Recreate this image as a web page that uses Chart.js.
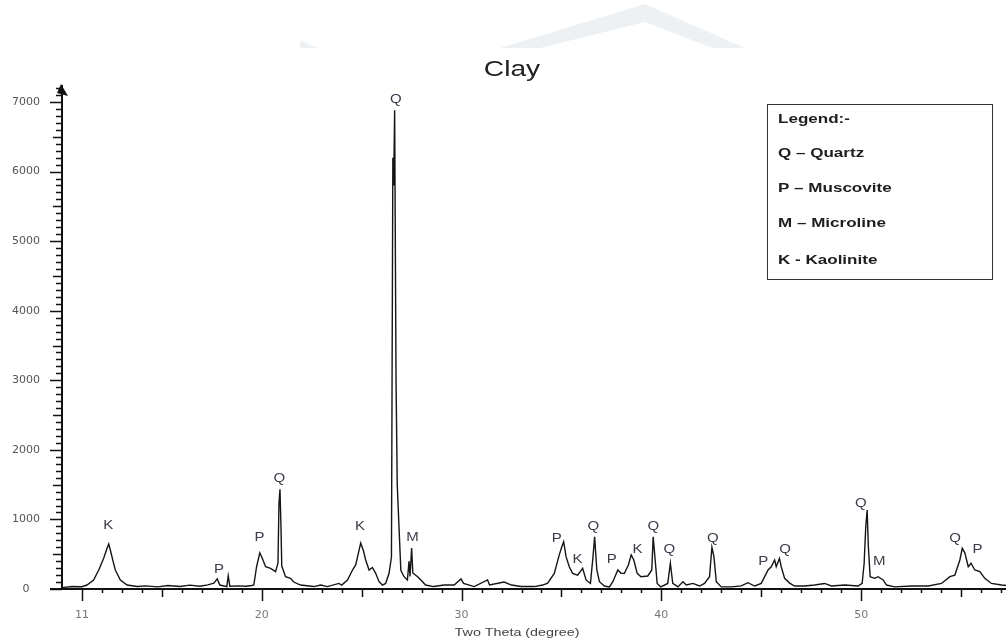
<!doctype html>
<html>
<head>
<title>Clay</title>
<script src="https://cdn.jsdelivr.net/npm/chart.js@4.4.1/dist/chart.umd.min.js"></script>
<style>
  html, body { margin: 0; padding: 0; background: #fff; }
</style>
</head>
<body>
<canvas id="xrd" width="1006" height="641"></canvas>
<script>
// diffractogram (2 theta in degrees, counts)
var theta = [10.0, 10.5, 10.99, 11.25, 11.58, 11.84, 12.09, 12.26, 12.34, 12.42, 12.56, 12.67, 12.92, 13.26, 13.76,
  14.2, 14.8, 15.3, 15.9, 16.4, 16.9, 17.3, 17.6, 17.77, 17.9, 18.25, 18.32, 18.4, 18.8, 19.2, 19.5,
  19.6, 19.74, 19.9, 20.02, 20.19, 20.44, 20.69, 20.81, 20.86, 20.91, 20.96, 21.0, 21.19, 21.44, 21.6, 21.94,
  22.6, 22.95, 23.28, 23.86, 24.0, 24.29, 24.54, 24.7, 24.87, 24.95, 25.09, 25.2, 25.37, 25.54, 25.7, 25.87,
  26.04, 26.2, 26.37, 26.49, 26.56, 26.6, 26.65, 26.72, 26.78, 26.87, 26.96, 27.12, 27.29, 27.37, 27.42, 27.5,
  27.56, 27.8, 27.96, 28.2, 28.6, 29.13, 29.63, 29.97, 30.1, 30.63, 31.3, 31.4, 32.13, 32.5, 32.97, 33.64,
  34.06, 34.31, 34.64, 34.89, 35.01, 35.11, 35.23, 35.39, 35.56, 35.81, 36.06, 36.23, 36.45, 36.57, 36.66,
  36.77, 36.9, 37.15, 37.4, 37.57, 37.82, 37.98, 38.15, 38.35, 38.49, 38.62, 38.79, 38.98, 39.32, 39.52,
  39.59, 39.69, 39.79, 39.97, 40.32, 40.45, 40.57, 40.83, 41.08, 41.25, 41.58, 41.91, 42.16, 42.41, 42.53,
  42.63, 42.75, 43.0, 43.5, 44.0, 44.33, 44.67, 45.0, 45.34, 45.5, 45.67, 45.75, 45.91, 46.0, 46.17, 46.42,
  46.67, 47.17, 47.67, 48.17, 48.51, 49.18, 49.85, 50.05, 50.15, 50.23, 50.3, 50.36, 50.45, 50.68, 50.85,
  51.1, 51.27, 51.68, 52.52, 53.36, 54.02, 54.44, 54.69, 54.94, 55.06, 55.19, 55.36, 55.5, 55.69, 55.94,
  56.19, 56.52, 57.03, 57.25];
var counts = [20, 35, 33, 57, 130, 273, 445, 590, 647, 560, 393, 273, 130, 57, 35,
  45, 30, 50, 35, 55, 40, 60, 85, 145, 57, 33, 190, 40, 45, 40, 50,
  57, 320, 520, 445, 320, 297, 250, 370, 1231, 1432, 900, 330, 177, 153, 100, 57,
  35, 57, 35, 80, 57, 130, 273, 345, 560, 660, 550, 417, 273, 310, 225, 105,
  57, 80, 225, 460, 6200, 5800, 6880, 3000, 1500, 875, 270, 177, 130, 400, 180, 590,
  230, 177, 130, 57, 35, 57, 57, 145, 80, 35, 130, 57, 100, 57, 35, 35,
  57, 85, 225, 490, 600, 680, 465, 320, 225, 200, 297, 130, 80, 440, 750,
  273, 105, 43, 30, 105, 273, 225, 225, 345, 490, 417, 225, 177, 187, 273,
  750, 417, 80, 30, 80, 370, 80, 30, 105, 57, 80, 43, 80, 177, 600,
  465, 105, 30, 30, 45, 90, 43, 80, 273, 320, 417, 320, 440, 320, 153, 85,
  43, 43, 57, 80, 43, 57, 43, 80, 370, 895, 1135, 610, 177, 153, 177,
  130, 57, 30, 43, 43, 80, 177, 200, 417, 585, 520, 320, 370, 273, 250,
  153, 80, 57, 50];

// phase letters over the peaks
var peakTheta = [12.31, 17.86, 19.88, 20.88, 24.92, 26.71, 27.54, 34.77, 35.8, 36.6, 37.52,
  38.8, 39.6, 40.4, 42.57, 45.1, 46.19, 49.98, 50.91, 54.7, 55.82];
var peakCounts = [905, 283, 737, 1590, 895, 7037, 737, 718, 417, 895, 427,
  570, 895, 560, 718, 392, 560, 1231, 392, 718, 570];
var peakLetters = ['K', 'P', 'P', 'Q', 'K', 'Q', 'M', 'P', 'K', 'Q', 'P',
  'K', 'Q', 'Q', 'Q', 'P', 'Q', 'Q', 'M', 'Q', 'P'];

var xTickLabels = [11, 20, 30, 40, 50];
var yTickLabels = [0, 1000, 2000, 3000, 4000, 5000, 6000, 7000];
var legendLines = ['Legend:-', 'Q \u2013 Quartz', 'P \u2013 Muscovite', 'M \u2013 Microline', 'K - Kaolinite'];

var FONT = '"Liberation Sans", Arial, sans-serif';

// the scan looks stretched sideways, so text is widened the same way
function wideText(ctx, str, x, y, sx, align) {
    ctx.save();
    ctx.translate(x, y);
    ctx.scale(sx, 1);
    ctx.textAlign = align;
    ctx.fillText(str, 0, 0);
    ctx.restore();
}

var decor = {
    id: 'decor',
    beforeDraw: function(chart) {
        var ctx = chart.ctx;
        ctx.save();
        ctx.fillStyle = '#fff';
        ctx.fillRect(0, 0, chart.width, chart.height);
        // faint watermark left over at the top of the scan
        ctx.fillStyle = '#eef1f4';
        ctx.beginPath();
        ctx.moveTo(500, 48); ctx.lineTo(645, 4); ctx.lineTo(745, 48);
        ctx.lineTo(712, 48); ctx.lineTo(645, 22); ctx.lineTo(540, 48);
        ctx.closePath();
        ctx.fill();
        ctx.beginPath();
        ctx.moveTo(300, 40); ctx.lineTo(318, 48); ctx.lineTo(300, 48);
        ctx.closePath();
        ctx.fill();
        ctx.restore();
    },
    afterDraw: function(chart) {
        var ctx = chart.ctx, xs = chart.scales.x, ys = chart.scales.y, area = chart.chartArea;
        ctx.save();
        ctx.strokeStyle = '#111';
        ctx.lineWidth = 1.5;
        ctx.beginPath();
        for (var v = 0; v <= 7200; v += 100) {
            var py = Math.round(ys.getPixelForValue(v)) + 0.5;
            var len = v % 1000 === 0 ? 12 : (v % 500 === 0 ? 9 : 6);
            ctx.moveTo(area.left - len, py);
            ctx.lineTo(area.left, py);
        }
        for (var d = 11; d <= 57; d++) {
            var px = Math.round(xs.getPixelForValue(d)) + 0.5;
            var tl = (d % 10 === 0 || d === 11) ? 12 : (d % 5 === 0 ? 8 : 4);
            ctx.moveTo(px, area.bottom);
            ctx.lineTo(px, area.bottom + tl);
        }
        ctx.stroke();

        // x axis runs a little past the y axis, y axis ends in an arrow
        ctx.lineWidth = 2;
        ctx.beginPath();
        ctx.moveTo(50, area.bottom);
        ctx.lineTo(area.left, area.bottom);
        ctx.stroke();
        ctx.fillStyle = '#111';
        ctx.beginPath();
        ctx.moveTo(area.left - 1, area.top - 2);
        ctx.lineTo(area.left - 5, area.top + 7);
        ctx.lineTo(area.left + 6, area.top + 10);
        ctx.closePath();
        ctx.fill();

        // peak letters
        ctx.fillStyle = '#3b3b48';
        ctx.font = '12px ' + FONT;
        ctx.textBaseline = 'middle';
        for (var i = 0; i < peakLetters.length; i++) {
            wideText(ctx, peakLetters[i], xs.getPixelForValue(peakTheta[i]), ys.getPixelForValue(peakCounts[i]), 1.25, 'center');
        }

        // legend box
        ctx.strokeStyle = '#333';
        ctx.lineWidth = 1;
        ctx.strokeRect(767.5, 104.5, 225, 175);
        ctx.fillStyle = '#1e1e1e';
        ctx.font = 'bold 12px ' + FONT;
        var rows = [120, 154, 189, 224, 261];
        for (var j = 0; j < legendLines.length; j++) {
            wideText(ctx, legendLines[j], 778, rows[j], 1.42, 'left');
        }

        // titles
        ctx.fillStyle = '#222';
        ctx.font = '22px ' + FONT;
        wideText(ctx, 'Clay', 512, 70, 1.28, 'center');
        ctx.fillStyle = '#444';
        ctx.font = '11px ' + FONT;
        wideText(ctx, 'Two Theta (degree)', 517, 633, 1.3, 'center');
        ctx.restore();
    }
};

var points = theta.map(function(t, i) { return { x: t, y: counts[i] }; });

var ctx = document.getElementById('xrd').getContext('2d');
window.xrdChart = new Chart(ctx, {
    type: 'line',
    data: {
        datasets: [{
            label: 'Clay',
            data: points,
            borderColor: '#151515',
            borderWidth: 1.4,
            pointRadius: 0,
            tension: 0,
            fill: false
        }]
    },
    options: {
        responsive: false,
        animation: false,
        layout: { padding: { top: 86, right: 0, bottom: 0, left: 0 } },
        plugins: {
            legend: { display: false },
            title: { display: false },
            tooltip: { enabled: false }
        },
        scales: {
            x: {
                type: 'linear',
                min: 10,
                max: 57.25,
                afterBuildTicks: function(scale) {
                    scale.ticks = xTickLabels.map(function(v) { return { value: v }; });
                },
                afterFit: function(scale) { scale.height = 52; },
                grid: { display: false, drawTicks: false },
                border: { display: true, color: '#111', width: 2 },
                ticks: {
                    padding: 20,
                    maxRotation: 0,
                    autoSkip: false,
                    color: '#777',
                    font: { family: '"DejaVu Sans", sans-serif', size: 11 },
                    callback: function(v) { return String(v); }
                }
            },
            y: {
                min: 0,
                max: 7230,
                afterBuildTicks: function(scale) {
                    scale.ticks = yTickLabels.map(function(v) { return { value: v }; });
                },
                afterFit: function(scale) { scale.width = 62; },
                grid: { display: false, drawTicks: false },
                border: { display: true, color: '#111', width: 2 },
                ticks: {
                    padding: 22,
                    crossAlign: 'center',
                    autoSkip: false,
                    color: '#555',
                    font: { family: '"DejaVu Sans", sans-serif', size: 11 },
                    callback: function(v) { return String(v); }
                }
            }
        }
    },
    plugins: [decor]
});
</script>
</body>
</html>
